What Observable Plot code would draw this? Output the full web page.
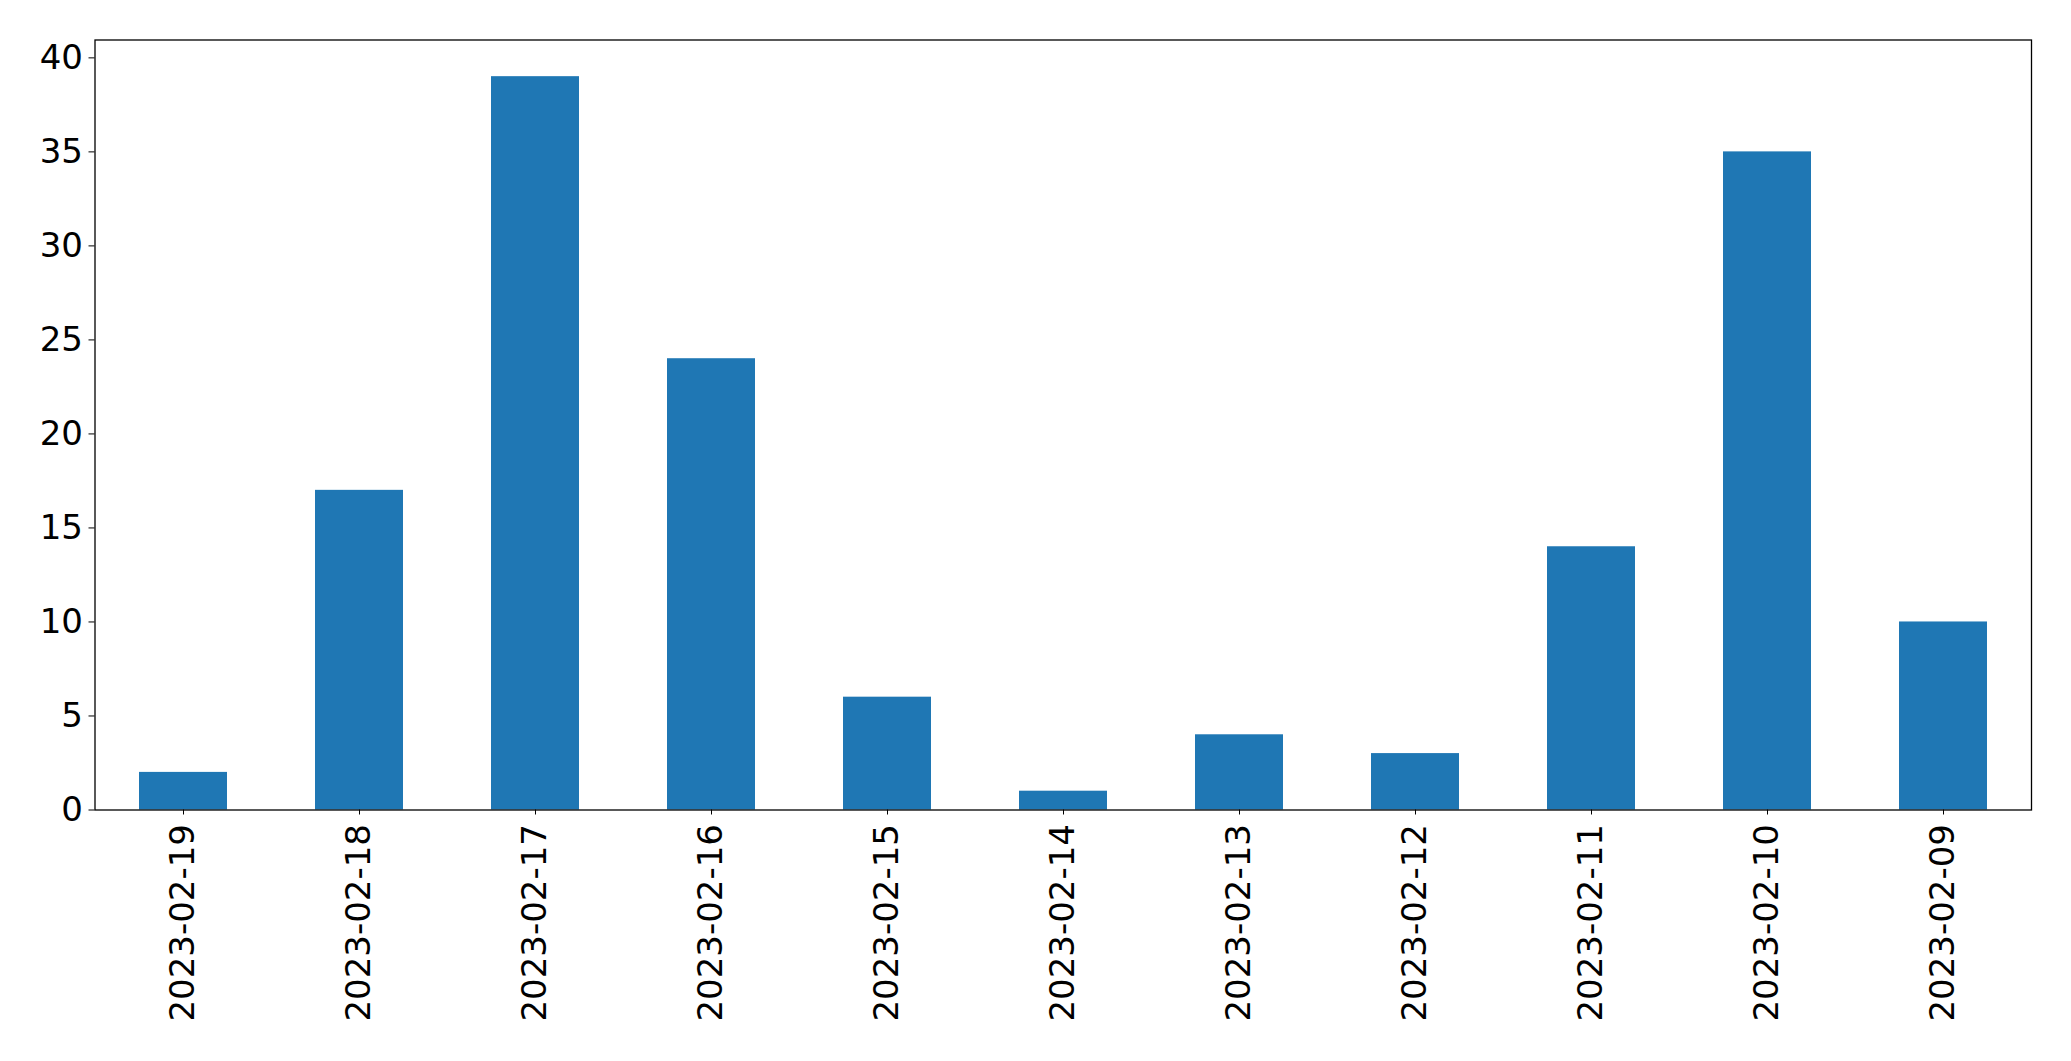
<!DOCTYPE html>
<html>
<head>
<meta charset="utf-8">
<script src="https://cdn.jsdelivr.net/npm/d3@7"></script>
<script src="https://cdn.jsdelivr.net/npm/@observablehq/plot@0.6"></script>
<style>
  html, body { margin: 0; padding: 0; background: #fff; }
  svg { display: block; }
</style>
</head>
<body>
<div id="chart"></div>
<script>
const dates = ["2023-02-19","2023-02-18","2023-02-17","2023-02-16","2023-02-15","2023-02-14","2023-02-13","2023-02-12","2023-02-11","2023-02-10","2023-02-09"];
const counts = [2, 17, 39, 24, 6, 1, 4, 3, 14, 35, 10];
const yTicks = [0, 5, 10, 15, 20, 25, 30, 35, 40];

const data = dates.map((d, i) => ({date: d, count: counts[i]}));

const chart = Plot.plot({
  width: 2071,
  height: 1061,
  marginLeft: 94.5,
  marginRight: 40,
  marginTop: 39.5,
  marginBottom: 251.5,
  style: {fontFamily: "DejaVu Sans", fontSize: "34px", color: "#000", background: "#fff"},
  x: {type: "band", domain: dates, paddingInner: 0.5, paddingOuter: 0.25, label: null},
  y: {domain: [0, 40.95], label: null},
  marks: [
    Plot.barY(data, {x: "date", y: "count", fill: "#1f77b4"}),
    Plot.frame({stroke: "#000", strokeWidth: 1.3}),
    Plot.axisY({ticks: yTicks, tickSize: 6, tickPadding: 6, fontSize: 34, label: null, tickFormat: d => String(d)}),
    Plot.axisX({tickSize: 5, tickPadding: 9, tickRotate: -90, fontSize: 34, label: null})
  ]
});
document.getElementById("chart").appendChild(chart);
</script>
</body>
</html>
